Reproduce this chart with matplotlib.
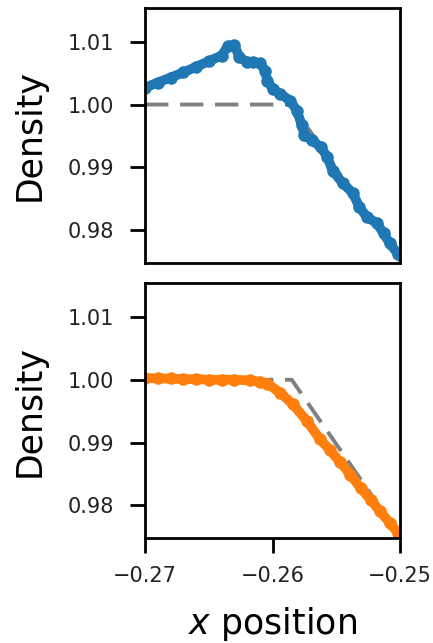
import matplotlib
matplotlib.use("Agg")
import matplotlib.pyplot as plt

# values (x position, density)
x_exact = [-0.27, -0.2585, -0.25]
rho_exact = [1.0, 1.0, 0.9751]

x_top = [-0.2700, -0.2690, -0.2680, -0.2670, -0.2660, -0.2650, -0.2640, -0.2635,
         -0.2630, -0.2626, -0.2620, -0.2615, -0.2610, -0.2606, -0.2604, -0.2600,
         -0.2594, -0.2586, -0.2581, -0.2577, -0.2575, -0.2569, -0.2562, -0.2557,
         -0.2553, -0.2545, -0.2537, -0.2532, -0.2526, -0.2518, -0.2513, -0.2508,
         -0.2502]
rho_top = [1.0027, 1.0035, 1.0043, 1.0051, 1.0060, 1.0069, 1.0078, 1.0093,
           1.0095, 1.0075, 1.0068, 1.0067, 1.0066, 1.0054, 1.0038, 1.0025,
           1.0017, 1.0006, 0.9990, 0.9967, 0.9951, 0.9943, 0.9932, 0.9916,
           0.9895, 0.9875, 0.9859, 0.9837, 0.9821, 0.9811, 0.9795, 0.9779,
           0.9763]

x_bot = [-0.2700, -0.2690, -0.2680, -0.2670, -0.2660, -0.2650, -0.2640, -0.2630,
         -0.2618, -0.2610, -0.2604, -0.2594, -0.2584, -0.2573, -0.2563, -0.2555,
         -0.2547, -0.2539, -0.2531, -0.2523, -0.2516, -0.2508, -0.2502]
rho_bot = [1.0003, 1.0002, 1.0002, 1.0001, 1.0001, 1.0000, 1.0000, 1.0000,
           0.9999, 0.9997, 0.9994, 0.9979, 0.9961, 0.9934, 0.9906, 0.9888,
           0.9869, 0.9849, 0.9828, 0.9809, 0.9791, 0.9772, 0.9757]

ylim = (0.9748, 1.0154)
xlim = (-0.27, -0.25)

fig = plt.figure(figsize=(4.33, 6.43), dpi=100)
ax1 = fig.add_axes([0.335, 0.591, 0.589, 0.397])
ax2 = fig.add_axes([0.335, 0.163, 0.589, 0.397])

for ax, xs, ys, col in [(ax1, x_top, rho_top, "#1f77b4"), (ax2, x_bot, rho_bot, "#ff7f0e")]:
    ax.plot(x_exact, rho_exact, color="gray", lw=2.8, dashes=(6, 3), zorder=1)
    ax.plot(xs, ys, "o-", color=col, lw=7, ms=8, zorder=2)
    ax.set_xlim(*xlim)
    ax.set_ylim(*ylim)
    ax.set_yticks([0.98, 0.99, 1.00, 1.01])
    ax.set_ylabel("Density", fontsize=25)
    ax.yaxis.set_label_coords(-0.385, 0.5)
    ax.tick_params(labelsize=15, width=2, length=11, labelcolor="#222222")
    ax.tick_params(axis="y", pad=11)
    for s in ax.spines.values():
        s.set_linewidth(2)

ax1.set_xticks([])
ax2.set_xticks([-0.27, -0.26, -0.25])
ax2.set_xticklabels(["\u22120.27", "\u22120.26", "\u22120.25"])
ax2.tick_params(axis="x", pad=9)
ax2.set_xlabel("$x$ position", fontsize=25)
ax2.xaxis.set_label_coords(0.5, -0.26)

fig.savefig("out.png", dpi=100)
